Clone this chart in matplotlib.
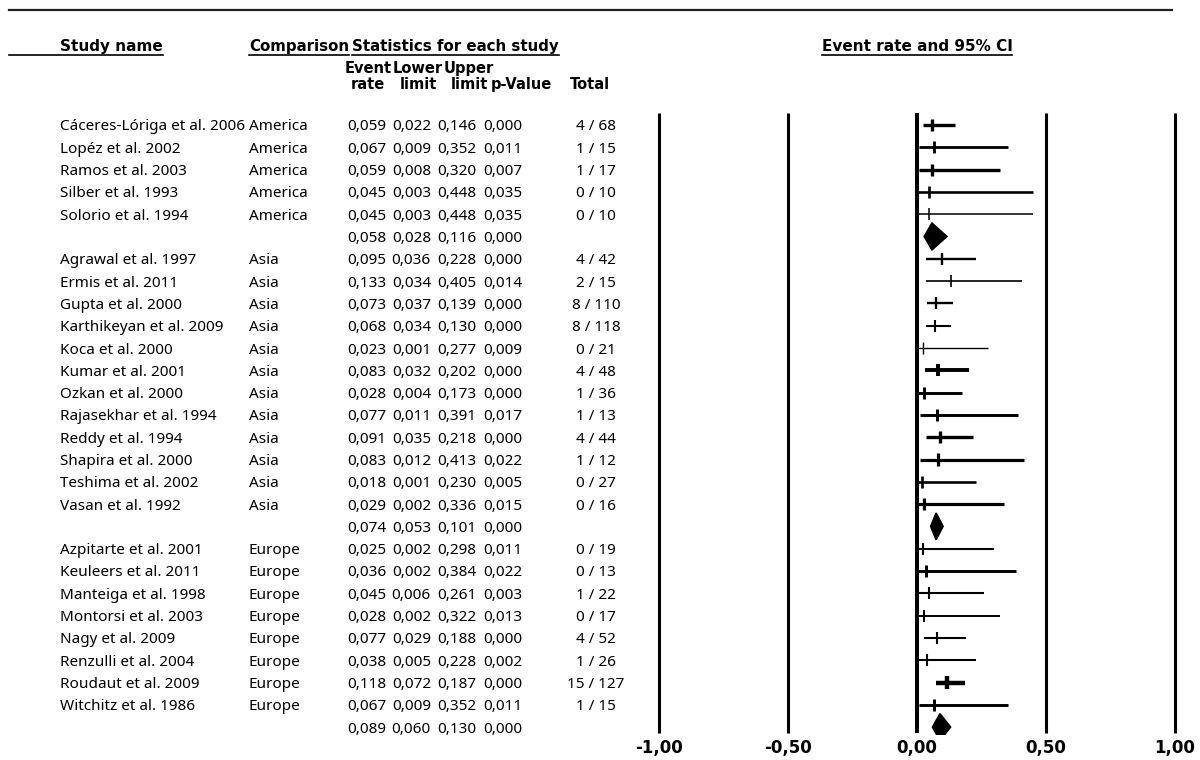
import numpy as np
import matplotlib
matplotlib.use('Agg')
import matplotlib.pyplot as plt
from matplotlib import transforms
from matplotlib.patches import Polygon
from matplotlib.lines import Line2D

plt.rcParams['font.family'] = ['Noto Sans', 'DejaVu Sans']
BOLD = 'DejaVu Sans'

# данные по исследованиям
groups = ['America', 'Asia', 'Europe']
studies = [
    ['Cáceres-Lóriga et al. 2006', 'Lopéz et al. 2002', 'Ramos et al. 2003',
     'Silber et al. 1993', 'Solorio et al. 1994'],
    ['Agrawal et al. 1997', 'Ermis et al. 2011', 'Gupta et al. 2000',
     'Karthikeyan et al. 2009', 'Koca et al. 2000', 'Kumar et al. 2001',
     'Ozkan et al. 2000', 'Rajasekhar et al. 1994', 'Reddy et al. 1994',
     'Shapira et al. 2000', 'Teshima et al. 2002', 'Vasan et al. 1992'],
    ['Azpitarte et al. 2001', 'Keuleers et al. 2011', 'Manteiga et al. 1998',
     'Montorsi et al. 2003', 'Nagy et al. 2009', 'Renzulli et al. 2004',
     'Roudaut et al. 2009', 'Witchitz et al. 1986'],
]
rate = [
    [0.059, 0.067, 0.059, 0.045, 0.045],
    [0.095, 0.133, 0.073, 0.068, 0.023, 0.083, 0.028, 0.077, 0.091, 0.083, 0.018, 0.029],
    [0.025, 0.036, 0.045, 0.028, 0.077, 0.038, 0.118, 0.067],
]
lower = [
    [0.022, 0.009, 0.008, 0.003, 0.003],
    [0.036, 0.034, 0.037, 0.034, 0.001, 0.032, 0.004, 0.011, 0.035, 0.012, 0.001, 0.002],
    [0.002, 0.002, 0.006, 0.002, 0.029, 0.005, 0.072, 0.009],
]
upper = [
    [0.146, 0.352, 0.320, 0.448, 0.448],
    [0.228, 0.405, 0.139, 0.130, 0.277, 0.202, 0.173, 0.391, 0.218, 0.413, 0.230, 0.336],
    [0.298, 0.384, 0.261, 0.322, 0.188, 0.228, 0.187, 0.352],
]
pval = [
    [0.000, 0.011, 0.007, 0.035, 0.035],
    [0.000, 0.014, 0.000, 0.000, 0.009, 0.000, 0.000, 0.017, 0.000, 0.022, 0.005, 0.015],
    [0.011, 0.022, 0.003, 0.013, 0.000, 0.002, 0.000, 0.011],
]
total = [
    ['4 / 68', '1 / 15', '1 / 17', '0 / 10', '0 / 10'],
    ['4 / 42', '2 / 15', '8 / 110', '8 / 118', '0 / 21', '4 / 48', '1 / 36',
     '1 / 13', '4 / 44', '1 / 12', '0 / 27', '0 / 16'],
    ['0 / 19', '0 / 13', '1 / 22', '0 / 17', '4 / 52', '1 / 26', '15 / 127', '1 / 15'],
]
# итог по каждой группе
sum_rate = [0.058, 0.074, 0.089]
sum_lower = [0.028, 0.053, 0.060]
sum_upper = [0.116, 0.101, 0.130]
sum_p = [0.000, 0.000, 0.000]

ticks = [-1.0, -0.5, 0.0, 0.5, 1.0]
tick_labels = ['-1,00', '-0,50', '0,00', '0,50', '1,00']

# толщина линий (вес исследования)
line_w = [
    [2.4, 2.0, 2.4, 1.9, 1.1],
    [1.7, 1.2, 1.7, 1.5, 1.0, 2.8, 2.1, 2.1, 2.4, 2.3, 1.9, 2.3],
    [1.5, 2.1, 1.5, 1.4, 1.5, 1.5, 3.2, 2.1],
]


def fmt(v):
    return '{:.3f}'.format(v).replace('.', ',')


W, H = 1200, 760
fig = plt.figure(figsize=(12, 7.6), dpi=100)
rend = fig.canvas.get_renderer()

# оси для графика (пиксели -> доли фигуры)
row0, step = 125, 22.3
ax_top, ax_bot = 105, 735
ax = fig.add_axes([646 / W, 1 - ax_bot / H, 542 / W, (ax_bot - ax_top) / H])
ax.set_xlim(-1.05, 1.05)
ax.set_ylim((ax_bot - row0) / step, (ax_top - row0) / step)
for s in ax.spines.values():
    s.set_visible(False)
ax.set_yticks([])
ax.set_xticks(ticks, tick_labels)
ax.tick_params(axis='x', length=0, pad=3)
for lab in ax.get_xticklabels():
    lab.set_fontweight('bold')
    lab.set_fontfamily(BOLD)
    lab.set_fontsize(12)

y_lo, y_hi = (113 - row0) / step, (733 - row0) / step
for t in ticks:
    ax.vlines(t, y_lo, y_hi, color='black', lw=2.9 if t == 0 else 2.2)

trans = transforms.blended_transform_factory(fig.transFigure, ax.transData)
fs = 11
va = 'center_baseline'

def row_text(r, name, reg, vals, tot):
    ax.text(60 / W, r, name, transform=trans, fontsize=fs, va=va, ha='left')
    ax.text(249 / W, r, reg, transform=trans, fontsize=fs, va=va, ha='left')
    for xp, v in zip([386, 431, 476, 522], vals):
        ax.text(xp / W, r, fmt(v), transform=trans, fontsize=fs, va=va, ha='right')
    ax.text(596 / W, r, tot, transform=trans, fontsize=fs, va=va, ha='center')

r = 0
for g in range(len(groups)):
    for i in range(len(studies[g])):
        row_text(r, studies[g][i], groups[g],
                 [rate[g][i], lower[g][i], upper[g][i], pval[g][i]], total[g][i])
        ax.plot([lower[g][i], upper[g][i]], [r, r], color='black',
                lw=line_w[g][i], solid_capstyle='butt')
        ax.plot([rate[g][i], rate[g][i]], [r - 0.27, r + 0.27], color='black',
                lw=line_w[g][i], solid_capstyle='butt')
        r += 1
    row_text(r, '', '', [sum_rate[g], sum_lower[g], sum_upper[g], sum_p[g]], '')
    d = Polygon([[sum_lower[g], r], [sum_rate[g], r - 0.6],
                 [sum_upper[g], r], [sum_rate[g], r + 0.6]],
                closed=True, facecolor='black', edgecolor='black', lw=1.2)
    ax.add_patch(d)
    r += 1

# заголовки
hy = 1 - 45 / H
hfs = 10.8
hdr = {}
hdr['study'] = fig.text(60 / W, hy, 'Study name', fontsize=11, family=BOLD,
                        fontweight='bold', va=va, ha='left')
hdr['comp'] = fig.text(249 / W, hy, 'Comparison', fontsize=hfs, family=BOLD,
                       fontweight='bold', va=va, ha='left')
comp_end = hdr['comp'].get_window_extent(rend).x1
hdr['stat'] = fig.text((comp_end + 3) / W, hy, 'Statistics for each study', fontsize=hfs,
                       family=BOLD, fontweight='bold', va=va, ha='left')
hdr['ci'] = fig.text(917 / W, hy, 'Event rate and 95% CI', fontsize=11, family=BOLD,
                     fontweight='bold', va=va, ha='center')

for xp, s1, s2 in [(368, 'Event', 'rate'), (418, 'Lower', 'limit'),
                   (469, 'Upper', 'limit'), (521, '', 'p-Value'), (590, '', 'Total')]:
    if s1:
        fig.text(xp / W, 1 - 67 / H, s1, fontsize=10.5, family=BOLD, fontweight='bold',
                 va=va, ha='center')
    fig.text(xp / W, 1 - 83 / H, s2, fontsize=10.5, family=BOLD, fontweight='bold',
             va=va, ha='center')

fig.add_artist(Line2D([9 / W, 1172 / W], [1 - 10 / H, 1 - 10 / H],
                      color='#222222', lw=1.6))

# подчёркивания заголовков
for key, t in hdr.items():
    bb = t.get_window_extent(rend)
    x0 = 9 if key == 'study' else bb.x0
    yy = bb.y0 - 1
    fig.add_artist(Line2D([x0 / W, bb.x1 / W], [yy / H, yy / H],
                          color='black', lw=1.2))

fig.savefig('out.png', dpi=100)
